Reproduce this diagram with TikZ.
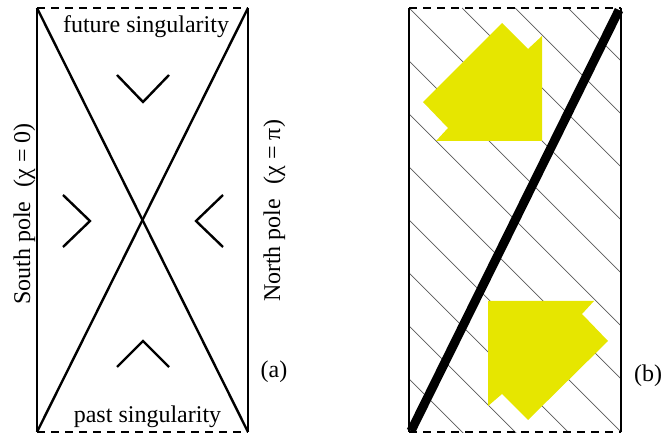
\documentclass[tikz,border=0pt]{standalone}
\usepackage{fontspec}
\setmainfont{Liberation Serif}
\definecolor{yel}{RGB}{230,230,0}
\begin{document}
\begin{tikzpicture}[x=1pt,y=-1pt,line join=miter,
  frame/.style={line width=2.4pt},
  sing/.style={line width=2.4pt,dash pattern=on 8pt off 6pt},
  chev/.style={line width=2.4pt},
  hatch/.style={line width=0.7pt,black!65},
  arrowfill/.style={fill=yel},
  worldline/.style={line width=9pt},
  lab/.style={font=\fontsize{24}{28}\selectfont,inner sep=0pt}]
\useasboundingbox (0,0) rectangle (664,443);
% ---- panel (a)
\coordinate (aTL) at (37,8);
\coordinate (aTR) at (248,8);
\coordinate (aBL) at (37,432);
\coordinate (aBR) at (248,432);
\draw[frame] (aTL) -- (aBL);
\draw[frame] (aTR) -- (aBR);
\draw[sing] (aTL) -- (aTR);
\draw[sing] (aBL) -- (aBR);
\draw[frame] (aTL) -- (aBR);
\draw[frame] (aBL) -- (aTR);
\coordinate (c1a) at (117,75); \coordinate (c1b) at (143,102); \coordinate (c1c) at (169,75);
\coordinate (c2a) at (63,195); \coordinate (c2b) at (90,221); \coordinate (c2c) at (63,247);
\coordinate (c3a) at (223,195); \coordinate (c3b) at (196,221); \coordinate (c3c) at (223,247);
\coordinate (c4a) at (117,367); \coordinate (c4b) at (143,341); \coordinate (c4c) at (169,367);
\draw[chev] (c1a) -- (c1b) -- (c1c);
\draw[chev] (c2a) -- (c2b) -- (c2c);
\draw[chev] (c3a) -- (c3b) -- (c3c);
\draw[chev] (c4a) -- (c4b) -- (c4c);
\node[lab,anchor=base] (fut) at (146,33) {future singularity};
\node[lab,anchor=base] (past) at (147.5,423) {past singularity};
\node[lab,rotate=90,anchor=base] (south) at (30,214) {South pole\hspace{0.6em}(χ = 0)};
\node[lab,rotate=90,anchor=base] (north) at (280,211) {North pole\hspace{0.6em}(χ = π)};
\node[lab,anchor=base] (la) at (274,378) {(a)};
% ---- panel (b)
\coordinate (bTL) at (409,8);
\coordinate (bTR) at (621,8);
\coordinate (bBL) at (409,432);
\coordinate (bBR) at (621,432);
\begin{scope}
\clip (bTL) rectangle (bBR);
\foreach \k in {-8,...,3} \draw[hatch] (409+53*\k,8) -- ++(440,440);
\end{scope}
\fill[arrowfill] (502,23) -- (528,49) -- (542,36) -- (542,141) -- (436,141) -- (448,128) -- (423,102) -- cycle;
\fill[arrowfill] (488,301) -- (594,301) -- (582,314) -- (608,341) -- (528,420) -- (502,394) -- (488,406) -- cycle;
\draw[frame] (bTL) -- (bBL);
\draw[frame] (bTR) -- (bBR);
\draw[sing] (bTL) -- (bTR);
\draw[sing] (bBL) -- (bBR);
\coordinate (wA) at (411,431);
\coordinate (wB) at (619,10);
\draw[worldline] (wA) -- (wB);
\node[lab,anchor=base] (lb) at (648,382) {(b)};
\end{tikzpicture}
\end{document}
